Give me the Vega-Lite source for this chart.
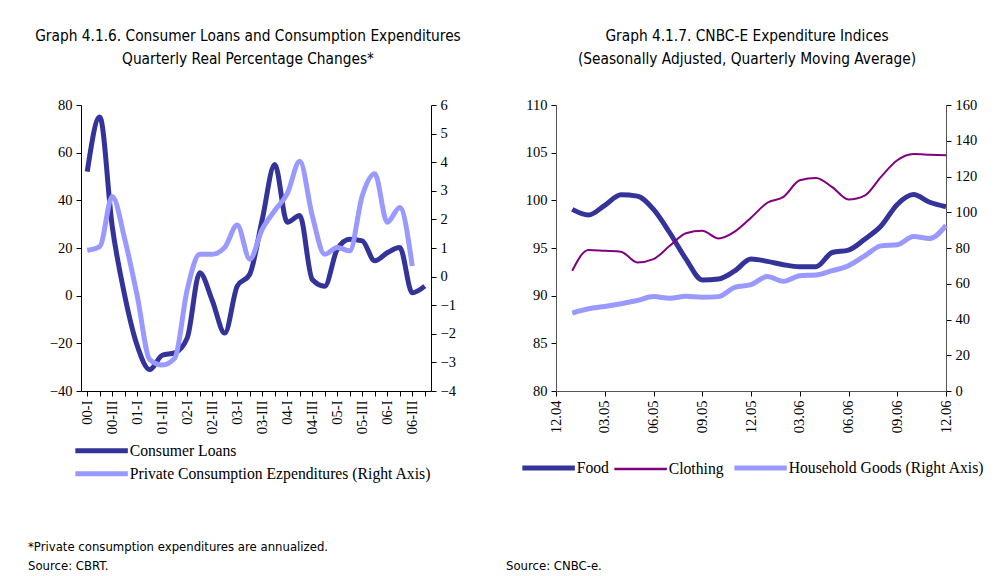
{
  "$schema": "https://vega.github.io/schema/vega-lite/v6.json",
  "background": "white",
  "padding": {"left": 28, "top": 28, "right": 5, "bottom": 0},
  "config": {
    "view": {"stroke": null},
    "axis": {"labelFont": "Liberation Serif", "labelFontSize": 14.5, "labelColor": "#000", "domainColor": "#000", "tickColor": "#000", "grid": false, "tickSize": 5, "labelPadding": 4},
    "legend": {"labelFont": "Liberation Serif", "labelFontSize": 15.7, "labelColor": "#000", "labelLimit": 0, "symbolType": "M-1.5,0H9", "symbolSize": 100, "symbolStrokeWidth": 5, "labelOffset": 39, "orient": "none"},
    "title": {"font": "Liberation Sans Narrow, DejaVu Sans Condensed, sans-serif", "fontSize": 15.3, "fontWeight": "normal", "color": "#000", "lineHeight": 23, "anchor": "middle"}
  },
  "align": "none",
  "vconcat": [
    {
      "hconcat": [
        {
          "title": {"text": ["Graph 4.1.6. Consumer Loans and Consumption Expenditures", "Quarterly Real Percentage Changes*"], "offset": 30, "dx": -8},
          "width": 350,
          "height": 286,
          "data": {"values": [
            {"q": "00-I", "loans": 52, "pce": 0.92},
            {"q": "00-II", "loans": 75, "pce": 1.05},
            {"q": "00-III", "loans": 29, "pce": 2.8},
            {"q": "00-IV", "loans": 0, "pce": 1.31},
            {"q": "01-I", "loans": -21, "pce": -0.68},
            {"q": "01-II", "loans": -31, "pce": -2.9},
            {"q": "01-III", "loans": -25, "pce": -3.09},
            {"q": "01-IV", "loans": -24, "pce": -2.85},
            {"q": "02-I", "loans": -17.7, "pce": -0.45},
            {"q": "02-II", "loans": 9.6, "pce": 0.78},
            {"q": "02-III", "loans": -2, "pce": 0.78},
            {"q": "02-IV", "loans": -15.7, "pce": 1.02},
            {"q": "03-I", "loans": 4, "pce": 1.8},
            {"q": "03-II", "loans": 9, "pce": 0.61},
            {"q": "03-III", "loans": 32, "pce": 1.66},
            {"q": "03-IV", "loans": 55, "pce": 2.31},
            {"q": "04-I", "loans": 30.8, "pce": 2.9},
            {"q": "04-II", "loans": 33.6, "pce": 4.03},
            {"q": "04-III", "loans": 6.8, "pce": 2.13},
            {"q": "04-IV", "loans": 4, "pce": 0.78},
            {"q": "05-I", "loans": 19.5, "pce": 1.02},
            {"q": "05-II", "loans": 23.7, "pce": 0.9},
            {"q": "05-III", "loans": 23, "pce": 2.83},
            {"q": "05-IV", "loans": 14.6, "pce": 3.6},
            {"q": "06-I", "loans": 18, "pce": 1.9},
            {"q": "06-II", "loans": 20.2, "pce": 2.42},
            {"q": "06-III", "loans": 1.2, "pce": 0.37},
            {"q": "06-IV", "loans": 4, "pce": null}
          ]},
          "encoding": {
            "x": {"field": "q", "type": "ordinal", "sort": null, "scale": {"paddingInner": 0, "paddingOuter": 0},
              "axis": {"title": null, "labelAngle": -90, "labelExpr": "(slice(datum.value, 2) == '-I' || slice(datum.value, 2) == '-III') ? datum.value : ''", "labelPadding": 4}}
          },
          "layer": [
            {
              "mark": {"type": "line", "interpolate": "monotone", "strokeWidth": 5},
              "encoding": {
                "y": {"field": "loans", "type": "quantitative", "scale": {"domain": [-40, 80], "nice": false}, "axis": {"title": null, "values": [-40, -20, 0, 20, 40, 60, 80]}},
                "color": {"datum": "Consumer Loans", "type": "nominal",
                  "scale": {"domain": ["Consumer Loans", "Private Consumption Ezpenditures (Right Axis)"], "range": ["#333399", "#9999ff"]},
                  "legend": {"title": null, "direction": "vertical", "rowPadding": 2, "legendX": -6, "legendY": 338}}
              }
            },
            {
              "mark": {"type": "line", "interpolate": "monotone", "strokeWidth": 5},
              "encoding": {
                "y": {"field": "pce", "type": "quantitative", "scale": {"domain": [-4, 6], "nice": false}, "axis": {"title": null, "orient": "right", "values": [-4, -3, -2, -1, 0, 1, 2, 3, 4, 5, 6]}},
                "color": {"datum": "Private Consumption Ezpenditures (Right Axis)", "type": "nominal"}
              }
            }
          ],
          "resolve": {"scale": {"y": "independent"}}
        },
        {
          "title": {"text": ["Graph 4.1.7. CNBC-E  Expenditure Indices", "(Seasonally Adjusted, Quarterly Moving Average)"], "offset": 30, "dx": -4},
          "width": 390,
          "height": 286,
          "data": {"values": [
            {"m": 1, "food": 99.05, "clothing": 92.62, "household": 43.6},
            {"m": 2, "food": 98.46, "clothing": 94.8, "household": 46.0},
            {"m": 3, "food": 99.47, "clothing": 94.7, "household": 47.3},
            {"m": 4, "food": 100.58, "clothing": 94.6, "household": 48.8},
            {"m": 5, "food": 100.44, "clothing": 93.49, "household": 50.6},
            {"m": 6, "food": 99.05, "clothing": 93.84, "household": 52.8},
            {"m": 7, "food": 96.6, "clothing": 95.23, "household": 51.9},
            {"m": 8, "food": 93.84, "clothing": 96.55, "household": 53.0},
            {"m": 9, "food": 91.65, "clothing": 96.8, "household": 52.5},
            {"m": 10, "food": 91.75, "clothing": 96.0, "household": 52.8},
            {"m": 11, "food": 92.6, "clothing": 96.72, "household": 58.0},
            {"m": 12, "food": 93.84, "clothing": 98.18, "household": 59.5},
            {"m": 13, "food": 93.6, "clothing": 99.75, "household": 64.0},
            {"m": 14, "food": 93.25, "clothing": 100.37, "household": 61.4},
            {"m": 15, "food": 93.04, "clothing": 102.1, "household": 64.5},
            {"m": 16, "food": 93.04, "clothing": 102.35, "household": 64.9},
            {"m": 17, "food": 94.53, "clothing": 101.38, "household": 67.3},
            {"m": 18, "food": 94.78, "clothing": 100.09, "household": 70.1},
            {"m": 19, "food": 95.92, "clothing": 100.5, "household": 75.6},
            {"m": 20, "food": 97.3, "clothing": 102.46, "household": 81.2},
            {"m": 21, "food": 99.57, "clothing": 104.2, "household": 81.8},
            {"m": 22, "food": 100.6, "clothing": 104.86, "household": 86.4},
            {"m": 23, "food": 99.8, "clothing": 104.79, "household": 85.3},
            {"m": 24, "food": 99.33, "clothing": 104.72, "household": 92.7}
          ]},
          "encoding": {
            "x": {"field": "m", "type": "quantitative", "scale": {"domain": [0, 24], "nice": false},
              "axis": {"title": null, "values": [0, 3, 6, 9, 12, 15, 18, 21, 24], "labelAngle": -90, "labelFlush": false, "labelOverlap": false, "labelPadding": 4, "domainColor": "#555",
                "labelExpr": "['12.04','03.05','06.05','09.05','12.05','03.06','06.06','09.06','12.06'][round(datum.value / 3)]"}}
          },
          "layer": [
            {
              "mark": {"type": "line", "interpolate": "monotone", "strokeWidth": 5},
              "encoding": {
                "y": {"field": "food", "type": "quantitative", "scale": {"domain": [80, 110], "nice": false}, "axis": {"title": null, "values": [80, 85, 90, 95, 100, 105, 110], "domainColor": "#555"}},
                "color": {"datum": "Food", "type": "nominal",
                  "scale": {"domain": ["Food", "Clothing", "Household Goods (Right Axis)"], "range": ["#333399", "#800080", "#9999ff"]},
                  "legend": {"title": null, "direction": "horizontal", "columnPadding": 0, "legendX": -34, "legendY": 355,
                    "encode": {"symbols": {"update": {"strokeWidth": {"signal": "datum.value === 'Clothing' ? 2.5 : 5"}}}}}}
              }
            },
            {
              "mark": {"type": "line", "interpolate": "monotone", "strokeWidth": 2},
              "encoding": {
                "y": {"field": "clothing", "type": "quantitative", "scale": {"domain": [80, 110], "nice": false}, "axis": null},
                "color": {"datum": "Clothing", "type": "nominal"}
              }
            },
            {
              "mark": {"type": "line", "interpolate": "monotone", "strokeWidth": 5},
              "encoding": {
                "y": {"field": "household", "type": "quantitative", "scale": {"domain": [0, 160], "nice": false}, "axis": {"title": null, "orient": "right", "values": [0, 20, 40, 60, 80, 100, 120, 140, 160], "domainColor": "#555"}},
                "color": {"datum": "Household Goods (Right Axis)", "type": "nominal"}
              }
            }
          ],
          "resolve": {"scale": {"y": "independent"}}
        }
      ],
      "spacing": 61,
      "resolve": {"scale": {"color": "independent"}, "legend": {"color": "independent"}}
    },
    {
      "width": 478,
      "height": 38,
      "data": {"values": [
        {"panel": "left", "line": "1", "note": "*Private consumption expenditures are annualized."},
        {"panel": "left", "line": "2", "note": "Source: CBRT."},
        {"panel": "right", "line": "2", "note": "Source: CNBC-e."}
      ]},
      "mark": {"type": "text", "align": "left", "baseline": "middle", "dx": -53, "font": "Liberation Sans Narrow, DejaVu Sans Condensed, sans-serif", "fontSize": 13, "color": "#000"},
      "encoding": {
        "x": {"field": "panel", "type": "nominal", "scale": {"type": "point", "padding": 0, "domain": ["left", "right"]}, "axis": null},
        "y": {"field": "line", "type": "ordinal", "scale": {"domain": ["1", "2"], "paddingInner": 0, "paddingOuter": 0}, "axis": null},
        "text": {"field": "note"}
      }
    }
  ],
  "spacing": 53
}
